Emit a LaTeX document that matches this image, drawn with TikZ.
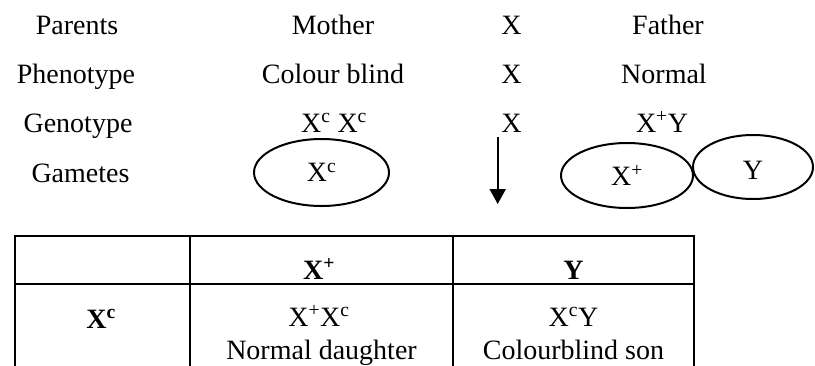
\documentclass[tikz,border=0pt]{standalone}
\usepackage{fontspec}
\setmainfont{Liberation Serif}
\usetikzlibrary{shapes.geometric,arrows.meta}
\newcommand{\sps}[1]{\textsuperscript{#1}}
\begin{document}
\begin{tikzpicture}[x=1pt,y=-1pt,
  txt/.style={font=\fontsize{28}{32}\selectfont, inner sep=0pt, anchor=base},
  bf/.style={txt, font=\fontsize{28}{32}\selectfont\bfseries},
  gam/.style={draw, line width=2pt, ellipse, inner sep=0pt, font=\fontsize{28}{32}\selectfont},
  rule/.style={line width=2.6pt}]
\useasboundingbox (0,0) rectangle (815,365);
% row labels
\node[txt] (l1) at (77,34) {Parents};
\node[txt] (l2) at (76,83) {Phenotype};
\node[txt] (l3) at (78,132) {Genotype};
\node[txt] (l4) at (80.5,182) {Gametes};
% mother column
\node[txt] (m1) at (333,34) {Mother};
\node[txt] (m2) at (333,83) {Colour blind};
\node[txt] (m3) at (334,132) {X\sps{c} X\sps{c}};
% cross
\node[txt] (x1) at (511.5,34) {X};
\node[txt] (x2) at (511.5,83) {X};
\node[txt] (x3) at (511.5,132) {X};
% father
\node[txt] (f1) at (668,34) {Father};
\node[txt] (f2) at (664,83) {Normal};
\node[txt] (f3) at (662,132) {X\sps{+}Y};
% gametes
\node[gam, minimum width=135pt, minimum height=67pt] (g1) at (321.5,172.5) {X\sps{c}};
\node[gam, minimum width=132pt, minimum height=65pt] (g2) at (627,175.5) {X\sps{+}};
\node[gam, minimum width=120pt, minimum height=64pt, text height=25pt, text depth=0pt] (g3) at (753,167) {Y};
\coordinate (a1) at (497.7,137);
\coordinate (a2) at (497.7,204);
\draw[line width=2pt, -{Triangle[length=15pt,width=16pt]}] (a1) -- (a2);
% table
\coordinate (t1) at (15,236);
\coordinate (t2) at (694,236);
\coordinate (t3) at (15,284);
\coordinate (t4) at (694,284);
\coordinate (v1a) at (15,236); \coordinate (v1b) at (15,368);
\coordinate (v2a) at (190,236); \coordinate (v2b) at (190,368);
\coordinate (v3a) at (453,236); \coordinate (v3b) at (453,368);
\coordinate (v4a) at (694,236); \coordinate (v4b) at (694,368);
\draw[rule, line cap=rect] (t1) -- (t2);
\draw[rule] (t3) -- (t4);
\draw[rule] (v1a) -- (v1b);
\draw[rule] (v2a) -- (v2b);
\draw[rule] (v3a) -- (v3b);
\draw[rule] (v4a) -- (v4b);
\node[bf] (h1) at (319,279) {X\sps{+}};
\node[bf] (h2) at (573.5,279) {Y};
\node[bf] (r1) at (101,328) {X\sps{c}};
\node[txt] (c1) at (319,326) {X\sps{+}X\sps{c}};
\node[txt] (c2) at (321.5,359) {Normal daughter};
\node[txt] (c3) at (573.5,326) {X\sps{c}Y};
\node[txt] (c4) at (573.5,359) {Colourblind son};
\end{tikzpicture}
\end{document}
